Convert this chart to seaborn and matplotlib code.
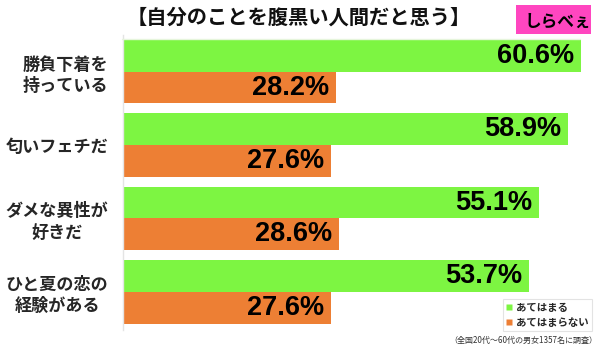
import matplotlib
matplotlib.use("Agg")
import matplotlib.pyplot as plt
import seaborn as sns
import pandas as pd
from matplotlib.lines import Line2D
from matplotlib.patches import Rectangle

categories = ["勝負下着を\n持っている", "匂いフェチだ", "ダメな異性が\n好きだ", "ひと夏の恋の\n経験がある"]
series = ["あてはまる", "あてはまらない"]
yes_values = [60.6, 58.9, 55.1, 53.7]
no_values = [28.2, 27.6, 28.6, 27.6]
colors = ["#7df542", "#ed7f34"]
title = "【自分のことを腹黒い人間だと思う】"
footnote = "（全国20代～60代の男女1357名に調査）"

sns.set_theme(style="white")
plt.rcParams['font.family'] = ['Noto Sans CJK JP', 'DejaVu Sans']

df = pd.DataFrame({
    "category": categories * 2,
    "series": [series[0]] * 4 + [series[1]] * 4,
    "value": yes_values + no_values,
})

fig = plt.figure(figsize=(6, 3.52), dpi=100)
ax = fig.add_axes([122.5 / 600, 22 / 352, (595 - 122.5) / 600, 295 / 352])

sns.barplot(data=df, y="category", x="value", hue="series", orient="h",
            palette=colors, width=0.865, ax=ax, legend=False,
            saturation=1, linewidth=0)

ax.set_xlim(0, (595 - 122.5) / 7.565)
ax.set_ylim(3.52, -0.5)
ax.set_xlabel("")
ax.set_ylabel("")
ax.set_xticks([])
for s in ["top", "right", "bottom"]:
    ax.spines[s].set_visible(False)
ax.spines["left"].set_color("#e4e4e4")
ax.spines["left"].set_linewidth(1)
ax.tick_params(axis="y", length=0, pad=10)
for lbl in ax.get_yticklabels():
    lbl.set_fontweight("bold")
    lbl.set_fontsize(12.3)
    lbl.set_linespacing(1.25)
    lbl.set_horizontalalignment("right")
    lbl.set_multialignment("center")

for cont in ax.containers:
    labels = [f"{v:.1f}%" for v in cont.datavalues]
    anns = ax.bar_label(cont, labels=labels, padding=-5,
                        fontsize=19.5, fontweight="bold",
                        family="Liberation Sans", color="black")
    for a in anns:
        a.set_ha("right")

# Title
fig.text(298.5 / 600, 1 - 17 / 352, title, ha="center", va="center",
         fontsize=14.6, fontweight="bold", color="#111111")
# faint top line
fig.add_artist(Line2D([122 / 600, 580 / 600], [1 - 39 / 352, 1 - 39 / 352],
                      color="#e6f5dc", linewidth=1))
# logo
fig.add_artist(Rectangle((516 / 600, 1 - 34 / 352), 75 / 600, 29 / 352,
                         facecolor="#ff46c0", edgecolor="none",
                         transform=fig.transFigure))
fig.text(558 / 600, 1 - 22 / 352, "しらべぇ", ha="center", va="center",
         fontsize=12, fontweight="bold", color="black")

# Legend
handles = [Line2D([0], [0], marker="s", color="none", markerfacecolor=c,
                  markeredgecolor="none", markersize=4) for c in colors]
leg = fig.legend(handles, series, loc="upper right",
                 bbox_to_anchor=(597 / 600, 1 - 294 / 352),
                 prop={"size": 7.5, "weight": "bold"},
                 handlelength=0.6, handletextpad=0.3, borderpad=0.35,
                 labelspacing=0.45, frameon=True, fancybox=False)
leg.get_frame().set_edgecolor("#dddddd")
leg.get_frame().set_linewidth(0.8)

fig.text(597 / 600, 1 - 340 / 352, footnote, ha="right", va="center",
         fontsize=5.8, color="#333333")

fig.savefig("out.png", dpi=100)
